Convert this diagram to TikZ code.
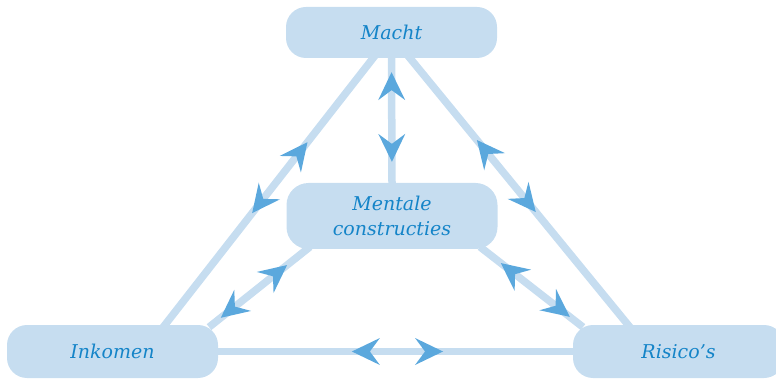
\documentclass[tikz,border=0pt]{standalone}
\usepackage{fontspec}
\setmainfont{DejaVu Serif}
\usetikzlibrary{arrows.meta,decorations.markings,calc}
\definecolor{boxfill}{HTML}{C6DDF0}
\definecolor{txtblue}{HTML}{1484C8}
\definecolor{arrblue}{HTML}{5BA8DD}
\pgfdeclarelayer{bg}
\pgfsetlayers{bg,main}
\tikzset{
  box/.style={fill=boxfill, rounded corners=20pt, minimum width=211pt, minimum height=51pt,
    font=\itshape\fontsize{19}{25}\selectfont, text=txtblue, align=center, inner sep=0pt},
  link/.style={draw=boxfill, line width=7.5pt, line cap=rect},
  twoway/.style 2 args={postaction={decorate, decoration={markings,
      mark=at position #1 with {\arrowreversed{Stealth[length=28pt, width=27pt, inset=10pt, line width=0pt, color=arrblue]}},
      mark=at position #2 with {\arrow{Stealth[length=28pt, width=27pt, inset=10pt, line width=0pt, color=arrblue]}}}}}
}
\begin{document}
\begin{tikzpicture}[x=1pt, y=-1pt]
\useasboundingbox (0,0) rectangle (776,379);
\node[box] (macht) at (391.5,32.5) {Macht};
\node[box, minimum height=66pt, rounded corners=22pt] (mentale) at (392,216) {Mentale\\constructies};
\node[box, minimum height=53pt] (inkomen) at (112.5,351.5) {Inkomen};
\node[box, minimum height=53pt] (risicos) at (678.5,351.5) {Risico’s};
\begin{pgfonlayer}{bg}
\draw[link, twoway={0.315}{0.581}] ($(macht.south)+(-18.5,0)$) -- ($(inkomen.north)+(52.5,0)$);
\draw[link, twoway={0.307}{0.577}] ($(macht.south)+(18.5,0)$) -- ($(risicos.north)+(-50.5,0)$);
\draw[link, twoway={0.112}{0.832}] (macht.south) -- (mentale.north);
\draw[link, twoway={0.21}{0.908}] ($(mentale.south)+(-85,0)$) -- ($(inkomen.north)+(99.5,0)$);
\draw[link, twoway={0.184}{0.895}] ($(mentale.south)+(91,0)$) -- ($(risicos.north)+(-98.5,0)$);
\draw[link, twoway={0.377}{0.634}] (inkomen.east) -- (risicos.west);
\end{pgfonlayer}
\end{tikzpicture}
\end{document}
